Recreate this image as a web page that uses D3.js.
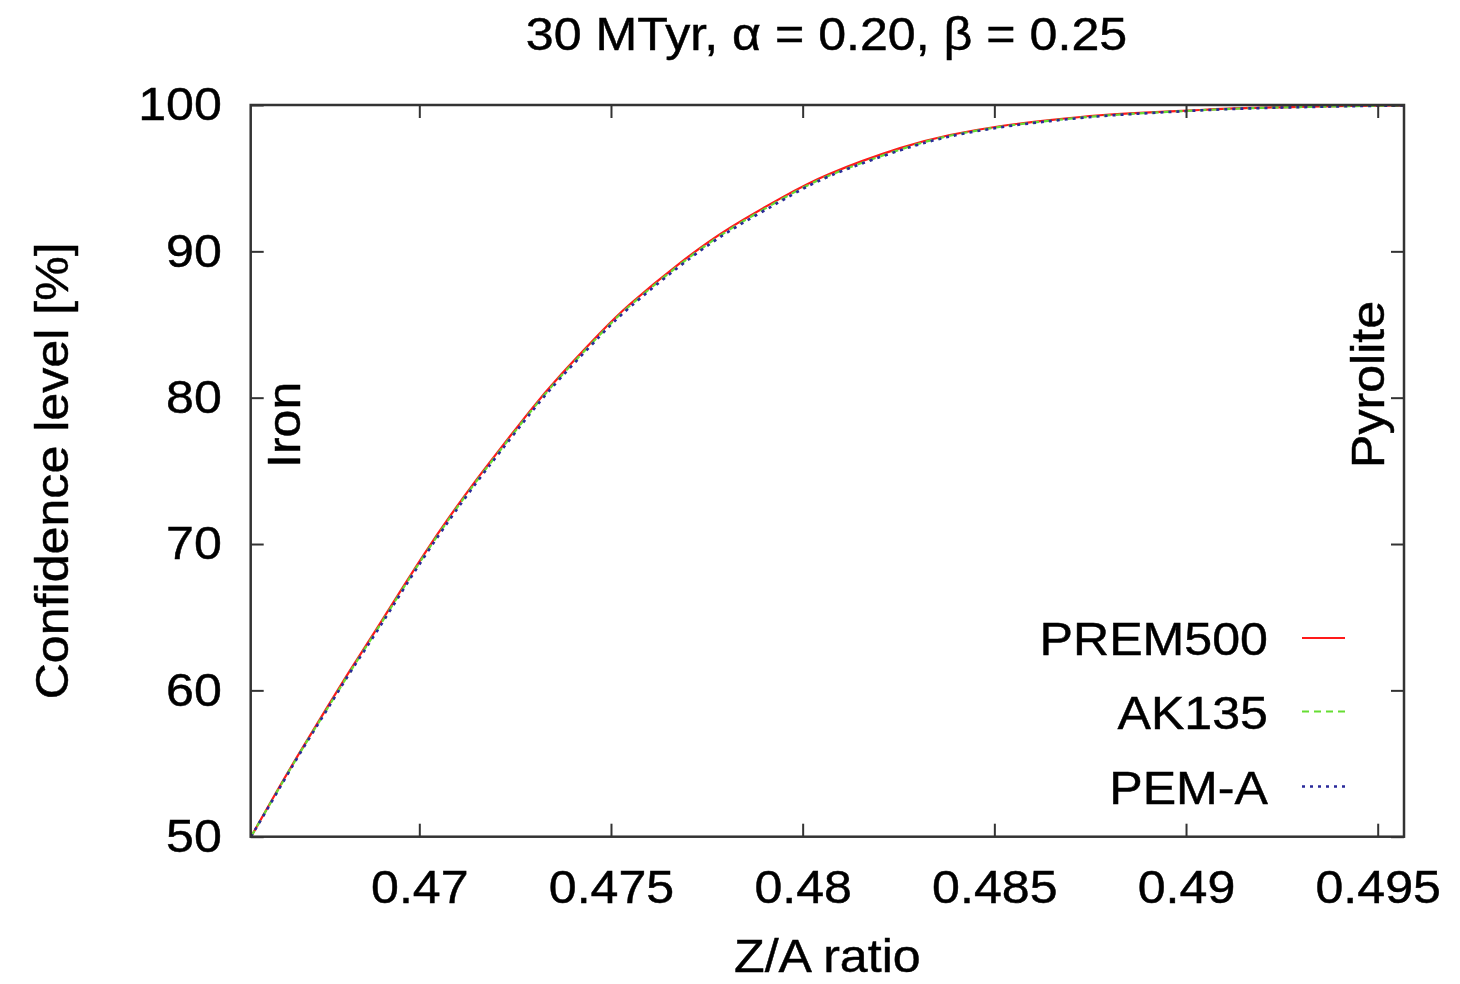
<!DOCTYPE html>
<html>
<head>
<meta charset="utf-8">
<script src="https://cdn.jsdelivr.net/npm/d3@7"></script>
<style>
  html, body { margin: 0; padding: 0; background: #fff; }
  svg text { font-family: "Liberation Sans", Arial, Helvetica, sans-serif; fill: #000; stroke: #000; stroke-width: 0.45px; }
</style>
</head>
<body>
<svg id="chart" width="1460" height="984"></svg>
<script>
// ---- data ----
const zaRatio = [0.46561, 0.46624, 0.46689, 0.46754, 0.46819, 0.46885, 0.46950, 0.47015, 0.47080, 0.47145,
                 0.47211, 0.47289, 0.47367, 0.47471, 0.47550, 0.47680, 0.47810, 0.47941, 0.48071, 0.48254,
                 0.48384, 0.48514, 0.48645, 0.48775, 0.48906, 0.49036, 0.49167, 0.49297, 0.49427, 0.49568];
const prem500 = [50.0, 52.9, 55.8, 58.6, 61.35, 64.05, 66.75, 69.4, 71.9, 74.25,
                 76.5, 79.1, 81.5, 84.4, 86.4, 89.2, 91.6, 93.6, 95.3, 97.05,
                 97.95, 98.55, 98.97, 99.3, 99.5, 99.66, 99.8, 99.87, 99.93, 99.97];
const ak135   = [50.0, 52.85, 55.75, 58.5, 61.25, 63.95, 66.65, 69.3, 71.8, 74.15,
                 76.4, 79.0, 81.4, 84.3, 86.3, 89.1, 91.5, 93.5, 95.2, 96.95,
                 97.9, 98.5, 98.93, 99.25, 99.47, 99.64, 99.78, 99.86, 99.92, 99.97];
const pemA    = [50.0, 52.8, 55.7, 58.45, 61.2, 63.85, 66.55, 69.2, 71.7, 74.05,
                 76.3, 78.9, 81.3, 84.2, 86.2, 89.0, 91.4, 93.4, 95.15, 96.9,
                 97.85, 98.47, 98.9, 99.23, 99.45, 99.63, 99.77, 99.85, 99.92, 99.97];
const seriesNames = ["PREM500", "AK135", "PEM-A"];
const xTicks = [0.47, 0.475, 0.48, 0.485, 0.49, 0.495];
const xTickLabels = ["0.47", "0.475", "0.48", "0.485", "0.49", "0.495"];
const yTicks = [50, 60, 70, 80, 90, 100];
const yTickLabels = ["50", "60", "70", "80", "90", "100"];
const xDomain = [0.465602, 0.495686];
const yDomain = [50, 100];
const titleText = "30 MTyr, \u03B1 = 0.20, \u03B2 = 0.25";
const xLabel = "Z/A ratio";
const yLabel = "Confidence level [%]";

// ---- layout ----
const svg = d3.select("#chart");
const L = 250.7, R = 1404, T = 105, B = 836.7;
const x = d3.scaleLinear().domain(xDomain).range([L, R]);
const y = d3.scaleLinear().domain(yDomain).range([B, T]);
const FS = 46;
const SX = 1.09;   // horizontal stretch of the reference lettering
const axisColor = "#333";

const styles = [
  { color: "#ff1a1a", dash: null, width: 2.2 },
  { color: "#66dd33", dash: "7,5", width: 2.2 },
  { color: "#2a2a9a", dash: "3,5", width: 2.6 }
];
const seriesData = [prem500, ak135, pemA];

function addText(px, py, str, anchor, rot) {
  return svg.append("text")
    .attr("transform", `translate(${px},${py})` + (rot ? ` rotate(${rot})` : "") + ` scale(${SX},1)`)
    .attr("text-anchor", anchor)
    .attr("font-size", FS)
    .text(str);
}

// clip
svg.append("defs").append("clipPath").attr("id", "clip")
  .append("rect").attr("x", L).attr("y", T - 2).attr("width", R - L).attr("height", B - T + 2);

// curves
const line = d3.line().x(d => x(d[0])).y(d => y(d[1])).curve(d3.curveNatural);
const g = svg.append("g").attr("clip-path", "url(#clip)");
seriesData.forEach((vals, i) => {
  const pts = zaRatio.map((zx, j) => [zx, vals[j]]);
  g.append("path").datum(pts)
    .attr("d", line)
    .attr("fill", "none")
    .attr("stroke", styles[i].color)
    .attr("stroke-width", styles[i].width)
    .attr("stroke-dasharray", styles[i].dash);
});

// axes with inward ticks (mirrored)
const tickLen = 13;
const axB = svg.append("g").attr("transform", `translate(0,${B})`)
  .call(d3.axisBottom(x).tickValues(xTicks).tickSize(-tickLen).tickFormat((d, i) => xTickLabels[i]).tickPadding(tickLen + 21));
const axT = svg.append("g").attr("transform", `translate(0,${T})`)
  .call(d3.axisTop(x).tickValues(xTicks).tickSize(-tickLen).tickFormat(""));
const axL = svg.append("g").attr("transform", `translate(${L},0)`)
  .call(d3.axisLeft(y).tickValues(yTicks).tickSize(-tickLen).tickFormat((d, i) => yTickLabels[i]).tickPadding(26.5));
const axR = svg.append("g").attr("transform", `translate(${R},0)`)
  .call(d3.axisRight(y).tickValues(yTicks).tickSize(-tickLen).tickFormat(""));
[axB, axT, axL, axR].forEach(a => {
  a.select(".domain").remove();
  a.selectAll(".tick line").attr("stroke", axisColor).attr("stroke-width", 2);
  a.selectAll("text").attr("font-size", FS).attr("font-family", "Liberation Sans, Arial, sans-serif")
    .attr("fill", "#000").attr("transform", `scale(${SX},1)`);
});
axB.selectAll(".tick text").attr("dy", "0.71em");

// frame
svg.append("rect").attr("x", L).attr("y", T).attr("width", R - L).attr("height", B - T)
  .attr("fill", "none").attr("stroke", axisColor).attr("stroke-width", 2.5);

// title & axis labels
addText(826.5, 50, titleText, "middle");
addText((L + R) / 2, 972, xLabel, "middle");
addText(68, (T + B) / 2, yLabel, "middle", -90);

// annotations
addText(300, 468, "Iron", "start", -90);
addText(1384, 468, "Pyrolite", "start", -90);

// legend
const legY = [638, 711.5, 786.5];
seriesNames.forEach((name, i) => {
  addText(1268, legY[i] + 17, name, "end");
  svg.append("line").attr("x1", 1302).attr("x2", 1345).attr("y1", legY[i]).attr("y2", legY[i])
    .attr("stroke", styles[i].color).attr("stroke-width", styles[i].width)
    .attr("stroke-dasharray", styles[i].dash);
});
</script>
</body>
</html>
